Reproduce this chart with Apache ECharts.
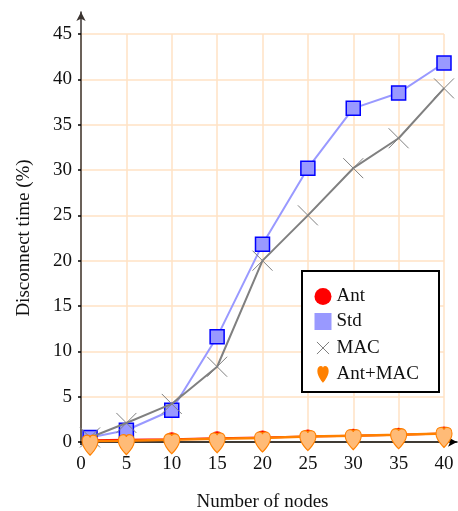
<!DOCTYPE html>
<html>
<head>
<meta charset="utf-8">
<script src="https://cdn.jsdelivr.net/npm/echarts@6/dist/echarts.min.js"></script>
<style>
  html, body { margin: 0; padding: 0; background: #fff; }
  #chart { width: 458px; height: 511px; }
</style>
</head>
<body>
<div id="chart"></div>
<script>
const nodes = [1, 5, 10, 15, 20, 25, 30, 35, 40];
const antValues = [0.2, 0.25, 0.3, 0.4, 0.5, 0.6, 0.7, 0.8, 0.95];
const stdValues = [0.5, 1.3, 3.5, 11.6, 21.8, 30.2, 36.8, 38.5, 41.8];
const macValues = [0.5, 2.1, 4.2, 8.3, 20.0, 25.0, 30.2, 33.5, 39.0];
const antMacValues = [0.1, 0.15, 0.25, 0.35, 0.45, 0.6, 0.7, 0.8, 0.95];

const FONT = 'Liberation Serif';
const GRID_COLOR = '#ffe2c4';
const CROSS = 'path://M0,0L10,10M10,0L0,10';
// same cross with empty margin so the legend icon comes out smaller
const LEGEND_CROSS = 'path://M-2,-2L-2,-2M12,12L12,12M0,0L10,10M10,0L0,10';
const HEART = 'path://M10,30C10,30 0,19 0,9C0,3 3,0 6.5,0C8.5,0 10,1.5 10,3.5C10,1.5 11.5,0 13.5,0C17,0 20,3 20,9C20,19 10,30 10,30Z';

const pairs = (vals) => nodes.map((x, i) => [x, vals[i]]);

const chart = echarts.init(document.getElementById('chart'));

chart.setOption({
  backgroundColor: '#fff',
  animation: false,
  grid: [
    { left: 81, right: 14, top: 34, bottom: 69, outerBoundsMode: 'none' },
    { left: 81, right: 1, top: 12, bottom: 69, outerBoundsMode: 'none' },
  ],
  xAxis: [
    {
      type: 'value', gridIndex: 0, min: 0, max: 40, interval: 5,
      axisLine: { show: false },
      axisTick: { show: true, length: 3, lineStyle: { color: '#000', width: 1.5 } },
      axisLabel: { fontFamily: FONT, fontSize: 19, color: '#111', margin: 13 },
      splitLine: { show: true, lineStyle: { color: GRID_COLOR, width: 1.5 } },
      name: 'Number of nodes',
      nameLocation: 'middle',
      nameGap: 51,
      nameTextStyle: { fontFamily: FONT, fontSize: 19, color: '#111' },
    },
    {
      type: 'value', gridIndex: 1, min: 0, max: 1,
      axisLine: { show: true, symbol: ['none', 'arrow'], symbolSize: [7, 9], lineStyle: { color: '#000', width: 1.5 } },
      axisTick: { show: false }, axisLabel: { show: false }, splitLine: { show: false },
    },
  ],
  yAxis: [
    {
      type: 'value', gridIndex: 0, min: 0, max: 45, interval: 5,
      axisLine: { show: false },
      axisTick: { show: true, length: 3, lineStyle: { color: '#000', width: 1.5 } },
      axisLabel: { fontFamily: FONT, fontSize: 19, color: '#111', margin: 9 },
      splitLine: { show: true, lineStyle: { color: GRID_COLOR, width: 1.5 } },
      name: 'Disconnect time (%)',
      nameLocation: 'middle',
      nameGap: 47,
      nameRotate: 90,
      nameTextStyle: { fontFamily: FONT, fontSize: 19, color: '#111' },
    },
    {
      type: 'value', gridIndex: 1, min: 0, max: 1,
      axisLine: { show: true, symbol: ['none', 'arrow'], symbolSize: [7, 9], lineStyle: { color: '#3a3330', width: 1.5 } },
      axisTick: { show: false }, axisLabel: { show: false }, splitLine: { show: false },
    },
  ],
  legend: {
    orient: 'vertical',
    left: 302,
    top: 271,
    padding: [16, 20, 8, 10],
    itemGap: 6,
    itemWidth: 17,
    itemHeight: 17,
    backgroundColor: '#fff',
    borderColor: '#000',
    borderWidth: 2,
    borderRadius: 0,
    textStyle: { fontFamily: FONT, fontSize: 19, color: '#111' },
    data: [
      { name: 'Ant', icon: 'circle', itemStyle: { color: '#ff0000', borderWidth: 0 } },
      { name: 'Std', icon: 'rect', itemStyle: { color: '#9999ff', borderWidth: 0 } },
      { name: 'MAC', icon: LEGEND_CROSS, itemStyle: { color: 'none', borderColor: '#808080', borderWidth: 1 } },
      { name: 'Ant+MAC', icon: HEART, itemStyle: { color: '#ff8000', borderWidth: 0 } },
    ],
  },
  series: [
    {
      name: 'Ant', type: 'line', xAxisIndex: 0, yAxisIndex: 0,
      data: pairs(antValues),
      symbol: 'circle', symbolSize: 14,
      lineStyle: { color: '#ff0000', width: 2 },
      itemStyle: { color: '#ff0000' },
      z: 2,
    },
    {
      name: 'Std', type: 'line', xAxisIndex: 0, yAxisIndex: 0,
      data: pairs(stdValues),
      symbol: 'rect', symbolSize: 14,
      lineStyle: { color: '#9999ff', width: 2 },
      itemStyle: { color: '#9999ff', borderColor: '#0000ff', borderWidth: 1.5 },
      z: 3,
    },
    {
      name: 'MAC', type: 'line', xAxisIndex: 0, yAxisIndex: 0,
      data: pairs(macValues),
      symbol: CROSS, symbolSize: 20,
      lineStyle: { color: '#808080', width: 2 },
      itemStyle: { color: 'none', borderColor: '#808080', borderWidth: 1 },
      z: 4,
    },
    {
      name: 'Ant+MAC', type: 'line', xAxisIndex: 0, yAxisIndex: 0,
      data: pairs(antMacValues),
      symbol: HEART, symbolSize: [16, 20], symbolOffset: [0, 4],
      lineStyle: { color: '#ff8000', width: 2.5 },
      itemStyle: { color: '#ffbb77', borderColor: '#ff8000', borderWidth: 1.2 },
      z: 5,
    },
  ],
});
</script>
</body>
</html>
